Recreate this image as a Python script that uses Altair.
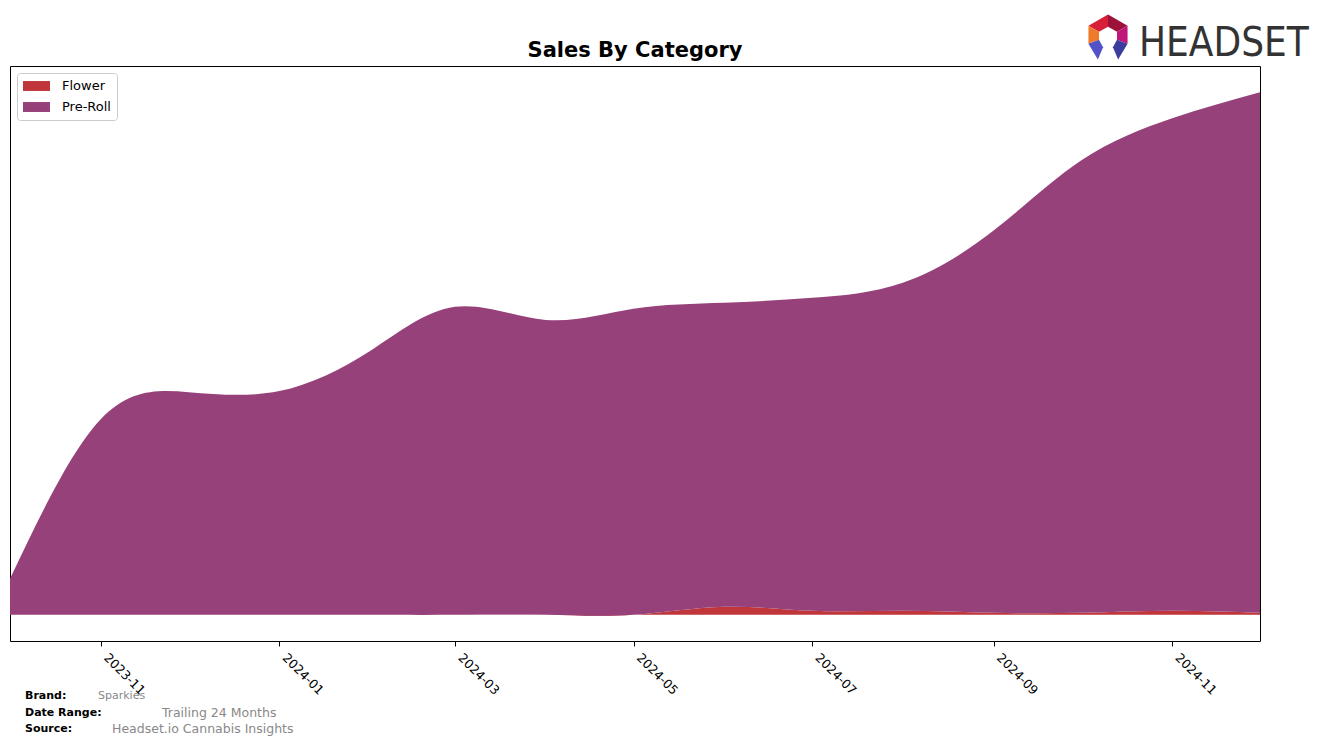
import altair as alt
import pandas as pd

# ---- data ----
months = ["2023-10-01", "2023-11-01", "2023-12-01", "2024-01-01", "2024-02-01",
          "2024-03-01", "2024-04-01", "2024-05-01", "2024-06-01", "2024-07-01",
          "2024-08-01", "2024-09-01", "2024-10-01", "2024-11-01", "2024-12-01"]
flower = [0, 0, 0, 0, 0, 0, 0, 0, 8, 4, 4, 2, 2, 4, 2]
pre_roll = [36, 195, 222, 223, 263, 307, 294, 305, 303, 312, 327, 381, 451, 491, 519]
categories = ["Flower", "Pre-Roll"]
colors = ["#c0363a", "#96417a"]
tick_months = [(2023, 11), (2024, 1), (2024, 3), (2024, 5), (2024, 7), (2024, 9), (2024, 11)]

rows = []
for i, m in enumerate(months):
    rows.append({"month": m, "category": "Flower", "sales": flower[i], "order": 0})
    rows.append({"month": m, "category": "Pre-Roll", "sales": pre_roll[i], "order": 1})
df = pd.DataFrame(rows)

ymax = max(f + p for f, p in zip(flower, pre_roll))

area = alt.Chart(df).mark_area(interpolate="natural").encode(
    x=alt.X(
        "month:T",
        title=None,
        scale=alt.Scale(
            type="utc",
            domain=[alt.DateTime(year=2023, month=10, date=1, utc=True),
                    alt.DateTime(year=2024, month=12, date=1, utc=True)],
            nice=False,
        ),
        axis=alt.Axis(
            values=[alt.DateTime(year=y, month=m, date=1, utc=True) for y, m in tick_months],
            format="%Y-%m",
            labelAngle=45,
            labelAlign="left",
            labelBaseline="top",
            labelFont="DejaVu Sans",
            labelFontSize=12.5,
            labelColor="#000000",
            labelPadding=5,
            labelOffset=9,
            tickColor="#000000",
            tickSize=5,
            domain=False,
            grid=False,
        ),
    ),
    y=alt.Y(
        "sales:Q",
        stack="zero",
        scale=alt.Scale(domain=[-0.05 * ymax, 1.05 * ymax], nice=False, zero=False),
        axis=None,
    ),
    color=alt.Color(
        "category:N",
        scale=alt.Scale(domain=categories, range=colors),
        legend=alt.Legend(title=None, orient="none", legendX=7, legendY=7),
    ),
    order=alt.Order("order:Q"),
)

one = pd.DataFrame({"k": [0]})


def label(text, x, y, size, color, weight="normal", font="DejaVu Sans",
          align="left"):
    return alt.Chart(one).mark_text(
        text=text, align=align, baseline="middle", fontSize=size,
        fontWeight=weight, color=color, font=font,
    ).encode(x=alt.value(x), y=alt.value(y))


title = label("Sales By Category", 625, -15, 21, "#000000", "bold", "DejaVu Sans", "center")

footer = [
    label("Brand:", 15, 630, 11, "#000000", "bold"),
    label("Sparkies", 88, 630, 11, "#888888"),
    label("Date Range:", 15, 647, 11, "#000000", "bold"),
    label("Trailing 24 Months", 152, 647, 12.5, "#888888"),
    label("Source:", 15, 663, 11, "#000000", "bold"),
    label("Headset.io Cannabis Insights", 102, 663, 12.5, "#888888"),
]

logo_text = alt.Chart(one).mark_text(
    text="HEADSET", align="left", baseline="alphabetic", fontSize=40,
    font="DejaVu Sans Condensed", color="#333333",
).encode(x=alt.value(1129), y=alt.value(-10))

pieces = [
    ("M0,-1L-0.87,-0.5L-0.4,-0.23L0,-0.46Z", "#d81f3a"),
    ("M0,-1L0.87,-0.5L0.4,-0.23L0,-0.46Z", "#9c1238"),
    ("M-0.87,-0.5L-0.87,0.3L-0.4,0.12L-0.4,-0.23Z", "#f07a2c"),
    ("M0.87,-0.5L0.87,0.3L0.4,0.12L0.4,-0.23Z", "#c0177a"),
    ("M-0.87,0.3L-0.4,0.12L-0.22,0.45L-0.45,1Z", "#5252c8"),
    ("M0.87,0.3L0.4,0.12L0.22,0.45L0.45,1Z", "#3c3ca0"),
]
logo_icon = [
    alt.Chart(one).mark_point(shape=p, filled=True, fill=c, size=2025, strokeWidth=0, opacity=1)
    .encode(x=alt.value(1098), y=alt.value(-29))
    for p, c in pieces
]

chart = alt.layer(area, title, *footer, logo_text, *logo_icon).properties(
    width=1250,
    height=575,
    padding={"left": 10, "top": 66, "right": 64, "bottom": 104},
    autosize=alt.AutoSizeParams(type="none"),
    background="#ffffff",
).configure_view(
    stroke="#000000", strokeWidth=1
).configure_legend(
    padding=6,
    strokeColor="#cccccc",
    fillColor="#ffffff",
    cornerRadius=3,
    labelFont="DejaVu Sans",
    labelFontSize=13,
    labelColor="#000000",
    labelOffset=25,
    symbolType="M-1,-0.71H2.86V0.71H-1Z",
    symbolSize=196,
    symbolStrokeWidth=0,
    symbolOpacity=1,
    rowPadding=7,
)

chart.save("out.html", embed_options={"renderer": "svg", "actions": False})
